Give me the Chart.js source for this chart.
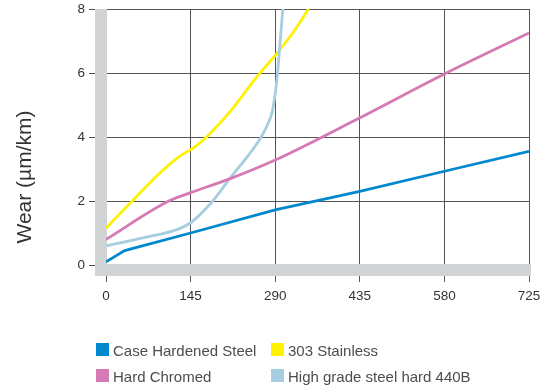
<!DOCTYPE html>
<html>
<head>
<meta charset="utf-8">
<script src="https://cdn.jsdelivr.net/npm/chart.js@4.4.1/dist/chart.umd.min.js"></script>
<style>
  html, body { margin: 0; padding: 0; background: #ffffff; }
  #wrap { position: relative; width: 542px; height: 389px; }
</style>
</head>
<body>
<div id="wrap"><canvas id="c" width="542" height="389"></canvas></div>
<script>
// ---- Data ----
const seriesLabels = ["Case Hardened Steel", "303 Stainless", "Hard Chromed", "High grade steel hard 440B"];
const seriesColors = ["#0088cf", "#fff200", "#d57ab4", "#a7cde0"];

const xCaseHardened = [0, 32, 145, 290, 435, 580, 725];
const yCaseHardened = [0.1, 0.45, 1.0, 1.72, 2.3, 2.93, 3.55];

const xStainless303 = [0, 44, 95, 125, 153, 175, 213, 255, 290, 320, 347];
const yStainless303 = [1.15, 1.98, 2.92, 3.38, 3.7, 4.05, 4.8, 5.8, 6.55, 7.25, 8.0];

const xHardChromed = [0, 110, 145, 213, 290, 435, 580, 725];
const yHardChromed = [0.8, 2.02, 2.26, 2.7, 3.28, 4.6, 5.97, 7.25];

const xSteel440B = [0, 67, 124, 145, 158, 170, 183, 213, 242, 262, 276, 285, 290, 294, 297, 300, 303];
const ySteel440B = [0.6, 0.86, 1.12, 1.32, 1.52, 1.74, 2.0, 2.72, 3.38, 3.88, 4.35, 4.8, 5.35, 6.0, 6.65, 7.3, 8.0];

const xTicks = [0, 145, 290, 435, 580, 725];
const yTicks = [0, 2, 4, 6, 8];
const yTitle = "Wear (µm/km)";

// ---- Build datasets ----
function pts(xs, ys) { return xs.map((x, i) => ({ x: x, y: ys[i] })); }
const seriesPoints = [
  pts(xCaseHardened, yCaseHardened),
  pts(xStainless303, yStainless303),
  pts(xHardChromed, yHardChromed),
  pts(xSteel440B, ySteel440B)
];
const smooth = [false, true, true, true];
const drawOrder = [2, 3, 1, 0];
const datasets = drawOrder.map(i => ({
  label: seriesLabels[i],
  data: seriesPoints[i],
  borderColor: seriesColors[i],
  backgroundColor: seriesColors[i],
  borderWidth: 2.8,
  pointRadius: 0,
  showLine: true,
  tension: 0,
  cubicInterpolationMode: smooth[i] ? 'monotone' : 'default',
  fill: false
}));

const FONT = "'Liberation Sans', Arial, Helvetica, sans-serif";

const decor = {
  id: 'decor',
  beforeDatasetsDraw(chart) {
    const ctx = chart.ctx;
    const a = chart.chartArea;
    ctx.save();
    ctx.fillStyle = '#d1d3d4';
    ctx.fillRect(a.left - 11, a.top, 12, a.bottom - a.top + 11);
    ctx.fillRect(a.left - 11, a.bottom - 1, a.right - a.left + 13, 12);
    ctx.restore();
  },
  afterDraw(chart) {
    const ctx = chart.ctx;
    ctx.save();
    ctx.fillStyle = '#333333';
    ctx.font = '21px ' + FONT;
    ctx.textAlign = 'center';
    ctx.textBaseline = 'middle';
    ctx.translate(25, 177);
    ctx.rotate(-Math.PI / 2);
    ctx.fillText(yTitle, 0, 0);
    ctx.restore();

    ctx.save();
    ctx.font = '15px ' + FONT;
    ctx.textAlign = 'left';
    ctx.textBaseline = 'alphabetic';
    const colX = [96, 271];
    const rowY = [343, 369];
    for (let i = 0; i < seriesLabels.length; i++) {
      const cx = colX[i % 2];
      const ry = rowY[Math.floor(i / 2)];
      ctx.fillStyle = seriesColors[i];
      ctx.fillRect(cx, ry, 13, 13);
      ctx.fillStyle = '#4d4d4d';
      ctx.fillText(seriesLabels[i], cx + 17, ry + 12.5);
    }
    ctx.restore();
  }
};

function zeroPad(scale) {
  scale.paddingLeft = 0; scale.paddingRight = 0;
  scale.paddingTop = 0; scale.paddingBottom = 0;
}

new Chart(document.getElementById('c'), {
  type: 'scatter',
  data: { datasets: datasets },
  options: {
    responsive: false,
    animation: false,
    layout: { padding: { left: 0, right: 13, top: 9, bottom: 0 } },
    plugins: { legend: { display: false }, tooltip: { enabled: false } },
    scales: {
      x: {
        type: 'linear',
        min: 0, max: 725,
        afterBuildTicks(scale) { scale.ticks = xTicks.map(v => ({ value: v })); },
        afterFit(scale) { scale.height = 124; zeroPad(scale); },
        ticks: {
          color: '#333333',
          font: { family: FONT, size: 13.5 },
          padding: 6,
          maxRotation: 0,
          autoSkip: false,
          callback: v => String(v)
        },
        grid: { color: '#555555', lineWidth: 1, tickLength: 17, drawTicks: true },
        border: { display: false }
      },
      y: {
        type: 'linear',
        min: 0, max: 8,
        afterBuildTicks(scale) { scale.ticks = yTicks.map(v => ({ value: v })); },
        afterFit(scale) { scale.width = 106; zeroPad(scale); },
        ticks: {
          color: '#333333',
          font: { family: FONT, size: 13.5 },
          padding: 4,
          autoSkip: false,
          callback: v => String(v)
        },
        grid: { color: '#555555', lineWidth: 1, tickLength: 17, drawTicks: true },
        border: { display: false }
      }
    }
  },
  plugins: [decor]
});
</script>
</body>
</html>
